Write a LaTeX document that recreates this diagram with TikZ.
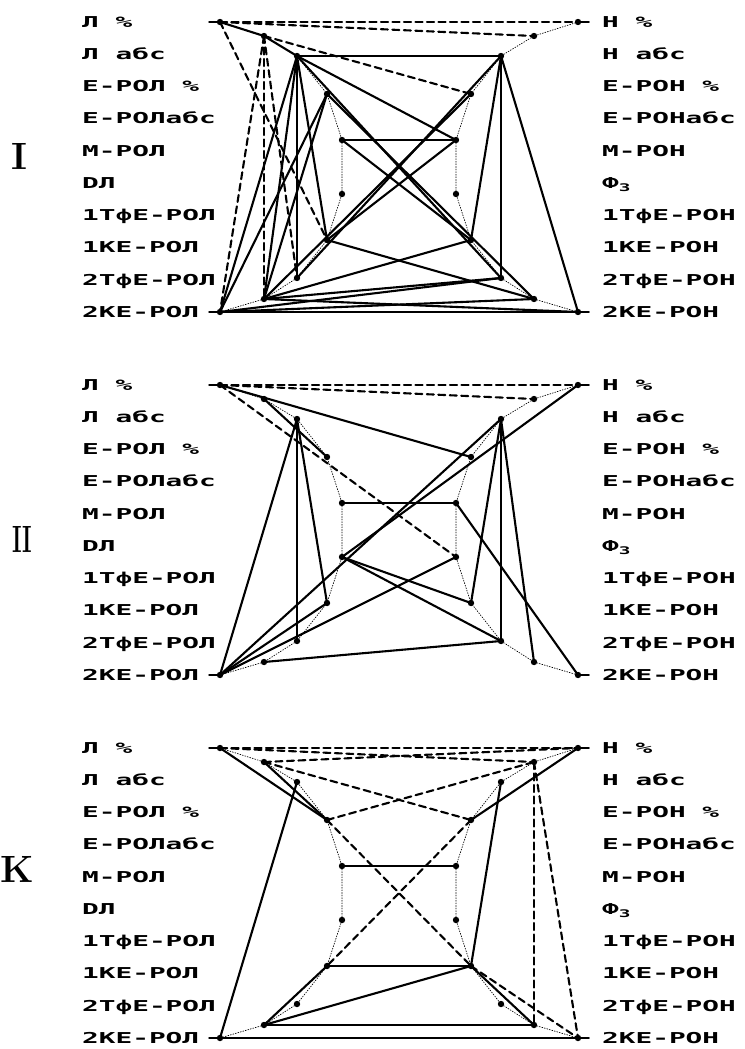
\documentclass[tikz,border=0pt]{standalone}
\usepackage{fontspec}
\usepackage{graphicx}
\newfontfamily\dotfont{DejaVu Sans Mono}[FakeStretch=1.85]
\begin{document}
\begin{tikzpicture}[x=1pt, y=-1pt, line join=round, line cap=round,
    posline/.style={line width=2.1pt},
    negline/.style={line width=2.1pt, dash pattern=on 7pt off 4.5pt},
    rim/.style={line width=0.7pt, dash pattern=on 1pt off 1.6pt},
    lab/.style={anchor=base west, inner sep=0pt, font=\dotfont\bfseries\fontsize{15}{15}\selectfont},
    numeral/.style={inner sep=0pt, font=\bfseries\fontsize{38}{38}\selectfont}]

\useasboundingbox (0,0) rectangle (744,1049);

% three panels, same frame of nodes
\foreach \p/\yo in {I/22, II/385, K/748}{
  \foreach \i/\x/\y in {1/220/0, 2/264/14, 3/297/34, 4/327/72, 5/342/118, 6/342/172, 7/327/218, 8/297/256, 9/264/277, 10/220/290}{
    \coordinate (\p-L\i) at (\x, \yo+\y);
    \coordinate (\p-R\i) at (798-\x, \yo+\y);
  }
  \foreach \t [count=\k from 0] in {Л \%, Л абс, Е-РОЛ \%, Е-РОЛабс, М-РОЛ, DЛ, 1ТфЕ-РОЛ, 1КЕ-РОЛ, 2ТфЕ-РОЛ, 2КЕ-РОЛ}
    \node[lab] (\p-l\k) at (82, \yo+\k*32.22+5.3) {\t};
  \foreach \t [count=\k from 0] in {Н \%, Н абс, Е-РОН \%, Е-РОНабс, М-РОН, Ф\textsubscript{3}, 1ТфЕ-РОН, 1КЕ-РОН, 2ТфЕ-РОН, 2КЕ-РОН}
    \node[lab] (\p-r\k) at (602, \yo+\k*32.22+5.3) {\t};
  \draw[rim] (\p-L1) \foreach \i in {2,...,10}{ -- (\p-L\i)};
  \draw[rim] (\p-R1) \foreach \i in {2,...,10}{ -- (\p-R\i)};
}

\node[numeral] (num-I) at (19.5,156) {I};
\node[numeral] (num-II) at (22.5,539) {\scalebox{0.6}[1]{II}};
\node[numeral] (num-K) at (17.5,869) {K};

% panel I
\foreach \a/\b in {L1/L2, L2/L3, L3/R3, L5/R5, L3/R5, L3/L7, L3/L8, L3/L9, L3/L10, L3/R8, L4/R9, R3/L8, R4/L9, L4/L9, L4/L10, L5/R7, R5/L7, R3/R7, R3/R8, R3/R10, L7/R9, R7/L9, L10/R10, L10/R9, L10/R8, L9/R10, L9/R8}
  \draw[posline] (I-\a) -- (I-\b);
\foreach \a/\b in {L1/R1, L1/R2, L2/R4, L1/L7, L2/L10, L2/L9, L2/L8}
  \draw[negline] (I-\a) -- (I-\b);

% panel II
\foreach \a/\b in {L1/R4, L2/L4, L3/L10, L3/L8, L3/L7, L5/R5, R1/L6, L10/R3, L6/R7, L6/R8, L9/R8, L10/R6, L10/L7, R5/R10, R3/R7, R3/R8, R3/R9}
  \draw[posline] (II-\a) -- (II-\b);
\foreach \a/\b in {L1/R1, L1/R2, L1/R6}
  \draw[negline] (II-\a) -- (II-\b);

% panel K
\foreach \a/\b in {L1/L4, L2/L4, L3/L10, R1/R4, R3/R7, L5/R5, L7/R7, L9/R9, L10/R10, L9/R7, L9/L7, R7/R9}
  \draw[posline] (K-\a) -- (K-\b);
\foreach \a/\b in {L1/R1, L1/R2, L2/R1, L2/R4, L4/R2, L4/R7, R4/L7, R2/R9, R2/R10, R7/R10}
  \draw[negline] (K-\a) -- (K-\b);

% points and end ticks
\foreach \p in {I, II, K}{
  \foreach \s in {L, R}
    \foreach \i in {1,...,10}
      \fill (\p-\s\i) circle (3.2);
  \draw[line width=1.5pt] (\p-L1) -- ++(-11,0);
  \draw[line width=1.5pt] (\p-L10) -- ++(-11,0);
  \draw[line width=1.5pt] (\p-R1) -- ++(11,0);
  \draw[line width=1.5pt] (\p-R10) -- ++(11,0);
}

\end{tikzpicture}
\end{document}
